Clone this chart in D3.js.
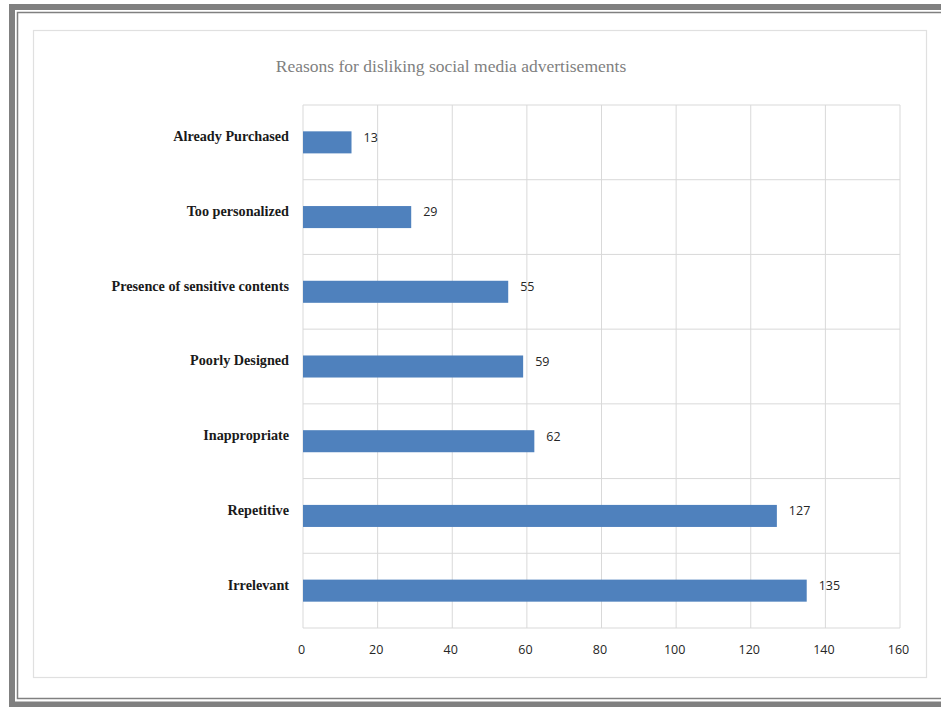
<!DOCTYPE html>
<html><head><meta charset="utf-8">
<script src="https://cdn.jsdelivr.net/npm/d3@7"></script>
<style>body{margin:0;background:#fff}svg{display:block}</style>
</head><body>
<svg id="c" width="941" height="707"></svg>
<script>
const categories = ["Already Purchased","Too personalized","Presence of sensitive contents","Poorly Designed","Inappropriate","Repetitive","Irrelevant"];
const values = [13,29,55,59,62,127,135];
const xTicks = [0,20,40,60,80,100,120,140,160];
const title = "Reasons for disliking social media advertisements";

const svg = d3.select("#c");
// frame
svg.append("rect").attr("x",12).attr("y",7).attr("width",960).attr("height",697.5)
  .attr("fill","none").attr("stroke","#808080").attr("stroke-width",6);
svg.append("rect").attr("x",17.5).attr("y",12.5).attr("width",950).attr("height",686)
  .attr("fill","none").attr("stroke","#808080").attr("stroke-width",1.5);
// chart area border
svg.append("rect").attr("x",33.5).attr("y",30.5).attr("width",893).attr("height",647)
  .attr("fill","#fff").attr("stroke","#e0e0e0").attr("stroke-width",1.2);

const x = d3.scaleLinear().domain([0,160]).range([303,900]);
const y = d3.scaleBand().domain(categories).range([105,628]).paddingInner(0.705).paddingOuter(0.3525);
const band = d3.scaleBand().domain(categories).range([105,628]);

const g = svg.append("g");
g.selectAll("line.v").data(xTicks).join("line")
  .attr("x1",d=>x(d)).attr("x2",d=>x(d)).attr("y1",105).attr("y2",628)
  .attr("stroke","#d9d9d9").attr("stroke-width",1);
const hb = categories.map(c=>band(c)).concat([628]);
g.selectAll("line.h").data(hb).join("line")
  .attr("x1",x(0)).attr("x2",x(160)).attr("y1",d=>d).attr("y2",d=>d)
  .attr("stroke","#d9d9d9").attr("stroke-width",1);

g.selectAll("rect.bar").data(values).join("rect")
  .attr("x",x(0)).attr("y",(d,i)=>y(categories[i]))
  .attr("width",d=>x(d)-x(0)).attr("height",y.bandwidth())
  .attr("fill","#4f81bd");

g.selectAll("text.val").data(values).join("text")
  .attr("x",d=>x(d)+12).attr("y",(d,i)=>y(categories[i])+y.bandwidth()/2 - 5)
  .attr("dy","0.35em").attr("font-family","'Open Sans', sans-serif").attr("font-size",12.5)
  .attr("fill","#262626").text(d=>d);

g.selectAll("text.cat").data(categories).join("text")
  .attr("x",289).attr("y",d=>y(d)+y.bandwidth()/2 - 6)
  .attr("dy","0.35em").attr("text-anchor","end")
  .attr("font-family","'Liberation Serif', serif").attr("font-weight","bold").attr("font-size",14.2)
  .attr("fill","#1a1a1a").text(d=>d);

const xAxis = d3.axisBottom(x).tickValues(xTicks).tickSize(0).tickPadding(0);
const ax = svg.append("g").attr("transform","translate(-2,645)").call(xAxis);
ax.select(".domain").remove();
ax.selectAll("text").attr("font-family","'Open Sans', sans-serif").attr("font-size",12.5).attr("fill","#262626");

svg.append("text").attr("x",451).attr("y",72).attr("text-anchor","middle")
  .attr("font-family","'Liberation Serif', serif").attr("font-size",17.5).attr("fill","#7f7f7f")
  .text(title);
</script>
</body></html>
